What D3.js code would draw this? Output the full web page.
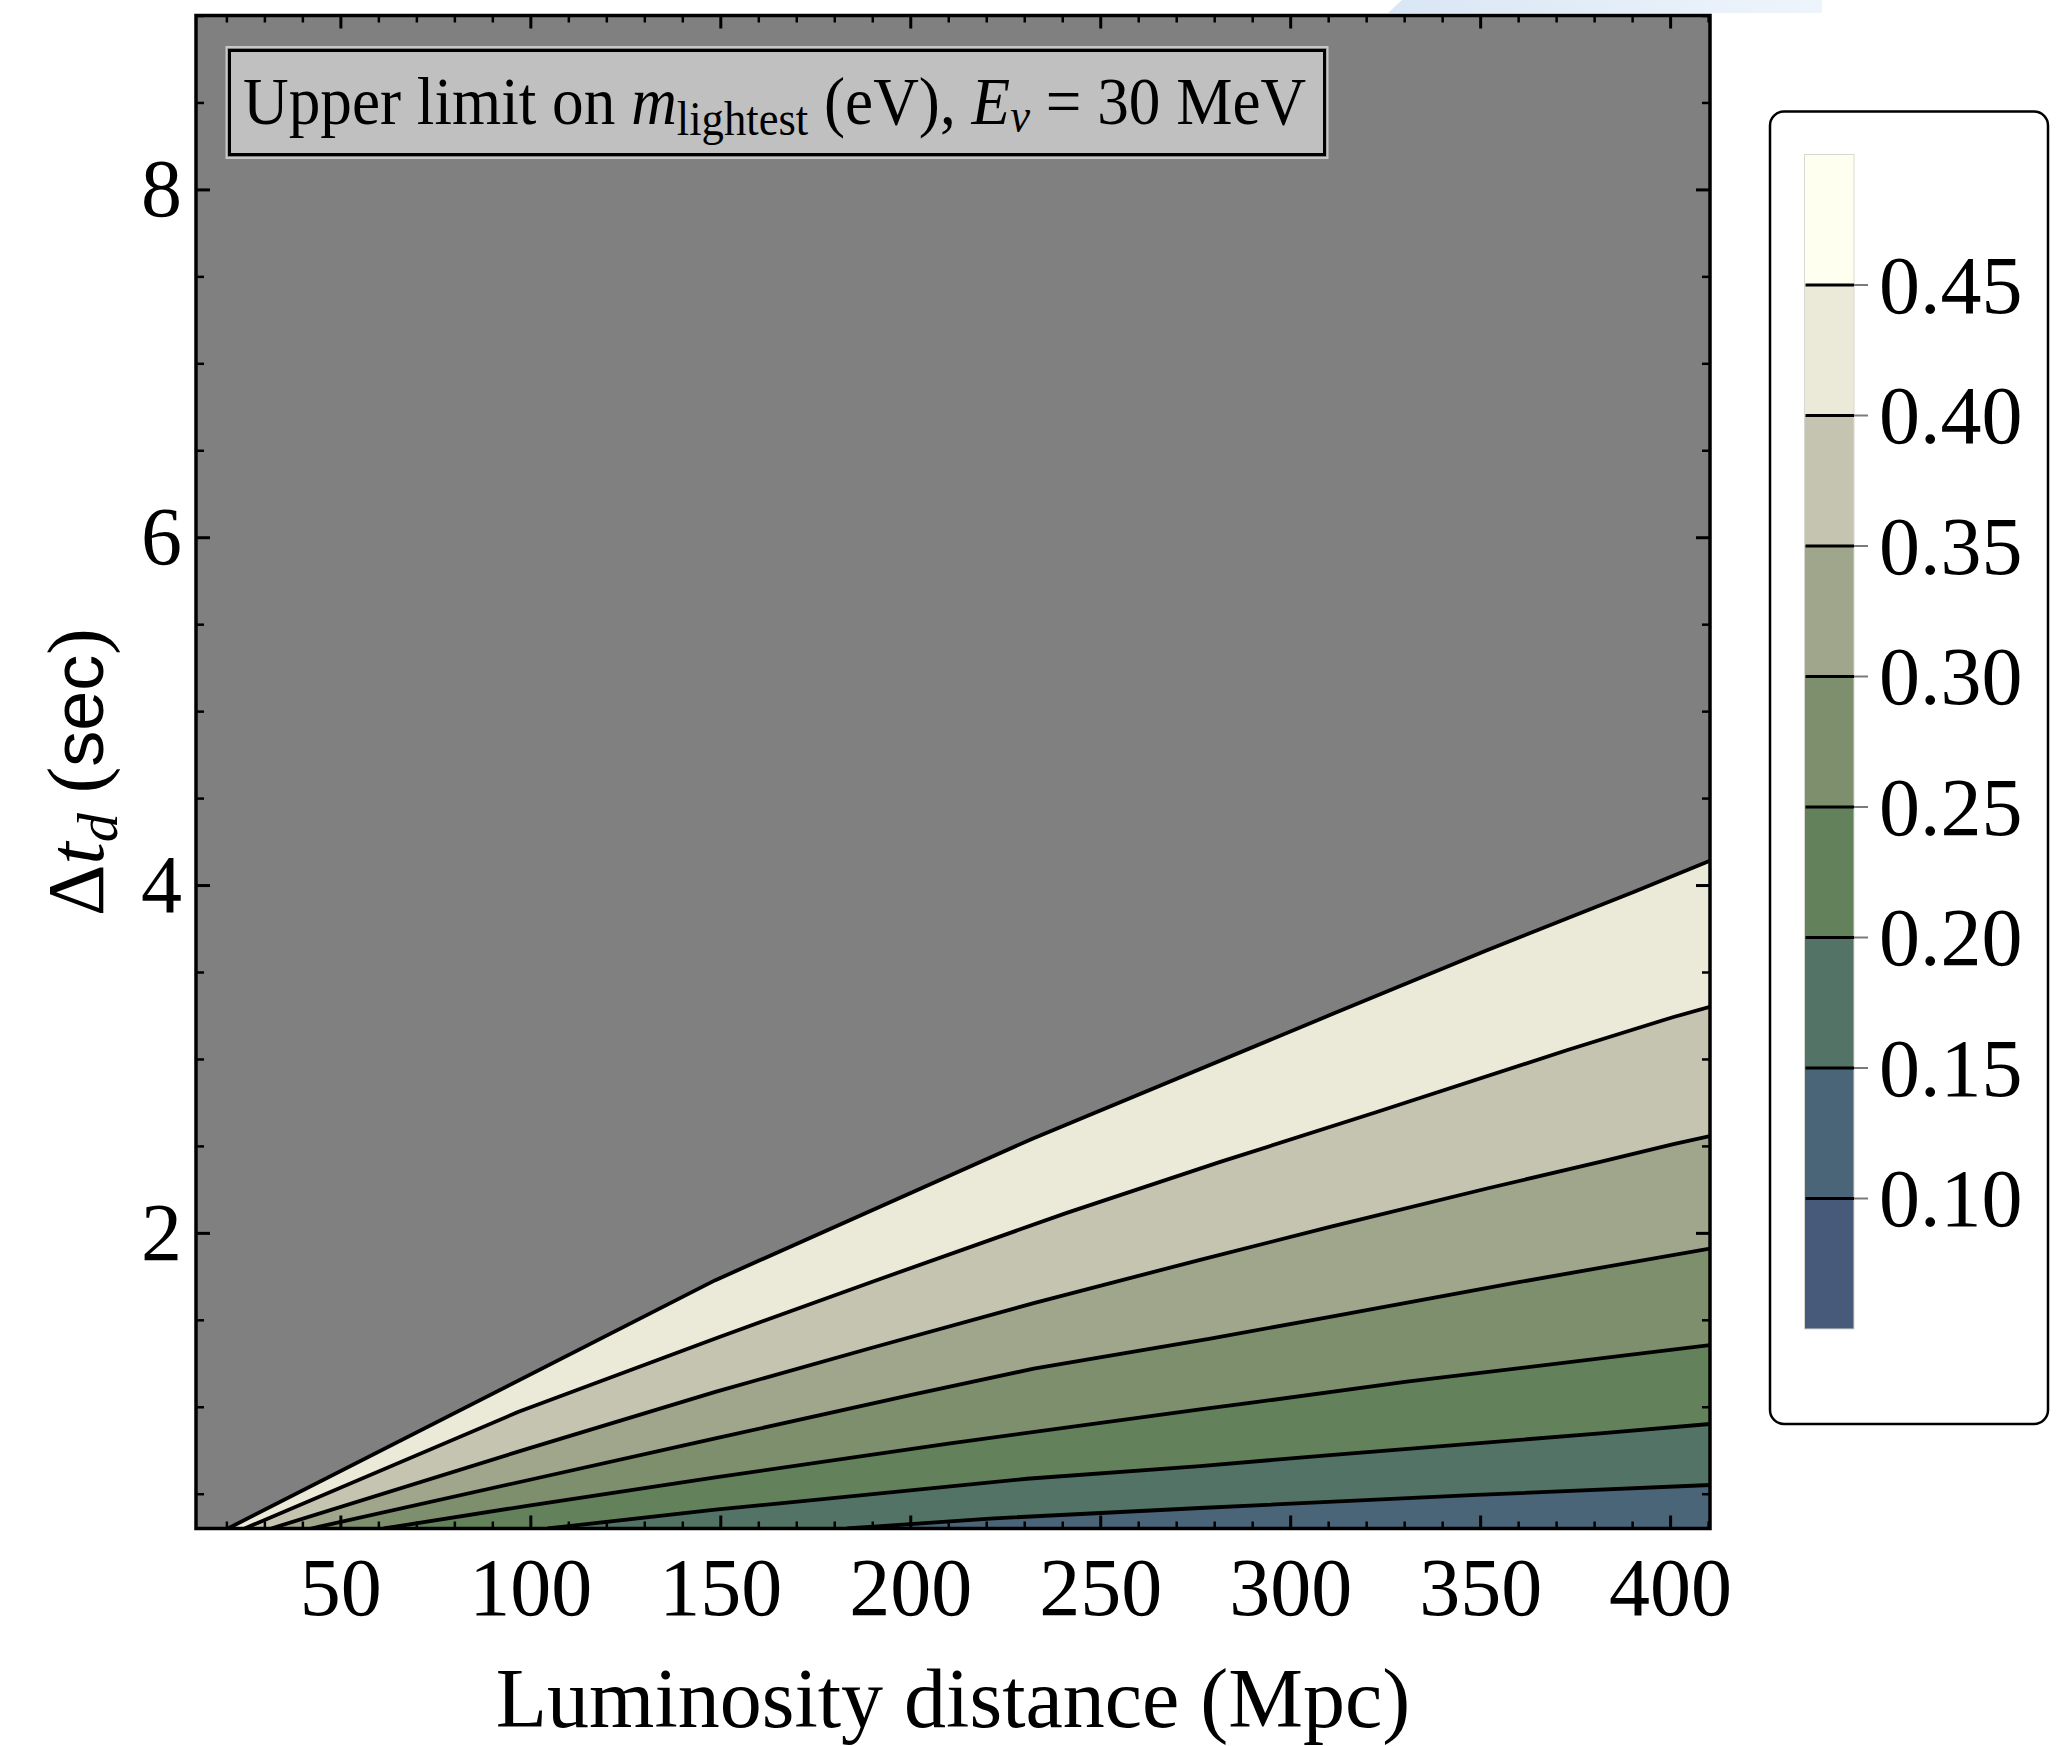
<!DOCTYPE html>
<html>
<head>
<meta charset="utf-8">
<script src="https://cdn.jsdelivr.net/npm/d3@7"></script>
<style>
  html, body { margin: 0; padding: 0; background: #fff; }
  svg { display: block; }
  text { font-family: "Liberation Serif", "Times New Roman", serif; fill: #000; }
</style>
</head>
<body>
<svg id="chart" width="2070" height="1746"></svg>
<script>
// contour levels of m_lightest (eV), top line first
const levels = [0.45, 0.40, 0.35, 0.30, 0.25, 0.20, 0.15]

// contour lines: [luminosity distance (Mpc), delta t_d (sec)]
const line045 = [[20.4, 0.3], [148.7, 1.728], [232, 2.54], [311.4, 3.261], [351.8, 3.625], [390.4, 3.960], [410.5, 4.14]]
const line040 = [[24.8, 0.3], [96.9, 0.971], [148.7, 1.393], [190.4, 1.722], [241.2, 2.115], [281.6, 2.408], [322.8, 2.695], [372.8, 3.050], [400.9, 3.241], [410.5, 3.30]]
const line035 = [[31.8, 0.3], [99.6, 0.761], [148.7, 1.086], [190.4, 1.342], [232.5, 1.596], [276.3, 1.845], [310.5, 2.034], [351.8, 2.255], [381.6, 2.408], [400.9, 2.51], [410.5, 2.556]]
const line030 = [[42.3, 0.3], [99.6, 0.579], [148.7, 0.818], [200, 1.067], [232.5, 1.219], [279, 1.392], [310.5, 1.517], [360.5, 1.718], [410.5, 1.91]]
const line025 = [[61.4, 0.3], [99.6, 0.432], [148.7, 0.594], [210.5, 0.790], [276.3, 0.985], [290.4, 1.025], [330.7, 1.144], [410.5, 1.355]]
const line020 = [[104.5, 0.3], [148.7, 0.408], [171, 0.456], [230.7, 0.586], [276.3, 0.659], [310.5, 0.722], [381.6, 0.847], [410.5, 0.901]]
const line015 = [[183.3, 0.3], [221, 0.357], [276.3, 0.418], [349.1, 0.493], [410.5, 0.55]]
const contourLines = [line045, line040, line035, line030, line025, line020, line015]

const xTicks = [50, 100, 150, 200, 250, 300, 350, 400]
const yTicks = [2, 4, 6, 8]
const barTicks = [0.10, 0.15, 0.20, 0.25, 0.30, 0.35, 0.40, 0.45]
const barEdges = [0.05, 0.10, 0.15, 0.20, 0.25, 0.30, 0.35, 0.40, 0.45, 0.50]

// band colours, low to high (between consecutive barEdges)
const bandColor = d3.scaleThreshold()
  .domain(barTicks)
  .range(['#475a7a', '#4a6478', '#527365', '#63815a', '#7e8f6d', '#a0a68b', '#c5c4b0', '#ebe9d8', '#fffff0'])

const svg = d3.select('#chart')
const x = d3.scaleLinear().domain([12, 410.5]).range([196, 1710])
const y = d3.scaleLinear().domain([0.3, 9]).range([1528.5, 15.5])
const cb = d3.scaleLinear().domain([0.05, 0.5]).range([1329, 154.5])

// faint blue strip at the very top of the screenshot
const grad = svg.append('defs').append('linearGradient').attr('id', 'strip')
grad.append('stop').attr('offset', '0%').attr('stop-color', '#d9e6f4')
grad.append('stop').attr('offset', '100%').attr('stop-color', '#eef4fb')
svg.append('polygon').attr('points', '1402,0 1822,0 1822,13 1388,13').attr('fill', 'url(#strip)')

svg.append('clipPath').attr('id', 'plotclip').append('rect')
  .attr('x', x(12)).attr('y', y(9)).attr('width', x(410.5) - x(12)).attr('height', y(0.3) - y(9))

// plot background: region above the top contour
svg.append('rect')
  .attr('x', x(12)).attr('y', y(9)).attr('width', x(410.5) - x(12)).attr('height', y(0.3) - y(9))
  .attr('fill', '#808080')

const line = d3.line().x(d => x(d[0])).y(d => y(d[1]))
const plot = svg.append('g').attr('clip-path', 'url(#plotclip)')

// filled bands: everything below each contour, drawn from the top level down
contourLines.forEach((pts, i) => {
  plot.append('path')
    .attr('d', line(pts) + `L${x(410.5) + 4},${y(0.3) + 4}L${x(pts[0][0])},${y(0.3) + 4}Z`)
    .attr('fill', bandColor(levels[i] - 0.025))
})
contourLines.forEach(pts => {
  plot.append('path')
    .attr('d', line(pts))
    .attr('fill', 'none')
    .attr('stroke', '#000')
    .attr('stroke-width', 3.8)
    .attr('stroke-linejoin', 'round')
})

// axes
const xMinor = d3.range(20, 411, 10).filter(v => v % 50 !== 0)
const yMinor = d3.range(0.5, 9.01, 0.5).filter(v => v % 2 !== 0)

function styleAxis(g, w) {
  g.select('.domain').remove()
  g.selectAll('.tick line').attr('stroke', '#000').attr('stroke-width', w)
  g.selectAll('.tick text').attr('font-family', '"Liberation Serif", serif').attr('font-size', 82).attr('fill', '#000')
}

svg.append('g').attr('transform', `translate(0,${y(0.3)})`)
  .call(d3.axisBottom(x).tickValues(xTicks).tickFormat(d3.format('d')).tickSize(-13).tickPadding(28))
  .call(g => styleAxis(g, 3))
svg.append('g').attr('transform', `translate(0,${y(0.3)})`)
  .call(d3.axisBottom(x).tickValues(xMinor).tickFormat('').tickSize(-7))
  .call(g => styleAxis(g, 2.5))
svg.append('g').attr('transform', `translate(0,${y(9)})`)
  .call(d3.axisTop(x).tickValues(xTicks).tickFormat('').tickSize(-13))
  .call(g => styleAxis(g, 3))
svg.append('g').attr('transform', `translate(0,${y(9)})`)
  .call(d3.axisTop(x).tickValues(xMinor).tickFormat('').tickSize(-7))
  .call(g => styleAxis(g, 2.5))

svg.append('g').attr('transform', `translate(${x(12)},0)`)
  .call(d3.axisLeft(y).tickValues(yTicks).tickFormat(d3.format('d')).tickSize(-14).tickPadding(14))
  .call(g => styleAxis(g, 3))
svg.append('g').attr('transform', `translate(${x(12)},0)`)
  .call(d3.axisLeft(y).tickValues(yMinor).tickFormat('').tickSize(-8))
  .call(g => styleAxis(g, 2.5))
svg.append('g').attr('transform', `translate(${x(410.5)},0)`)
  .call(d3.axisRight(y).tickValues(yTicks).tickFormat('').tickSize(-14))
  .call(g => styleAxis(g, 3))
svg.append('g').attr('transform', `translate(${x(410.5)},0)`)
  .call(d3.axisRight(y).tickValues(yMinor).tickFormat('').tickSize(-8))
  .call(g => styleAxis(g, 2.5))

// frame
svg.append('rect')
  .attr('x', x(12)).attr('y', y(9)).attr('width', x(410.5) - x(12)).attr('height', y(0.3) - y(9))
  .attr('fill', 'none').attr('stroke', '#000').attr('stroke-width', 3.5)

// axis labels
svg.append('text')
  .attr('x', (x(12) + x(410.5)) / 2).attr('y', 1727)
  .attr('text-anchor', 'middle').attr('font-size', 84)
  .text('Luminosity distance (Mpc)')

const ylab = svg.append('text')
  .attr('transform', `translate(103,${(y(0.3) + y(9)) / 2}) rotate(-90)`)
  .attr('text-anchor', 'middle').attr('font-size', 80)
ylab.append('tspan').text('Δ')
ylab.append('tspan').attr('font-style', 'italic').text('t')
ylab.append('tspan').attr('font-style', 'italic').attr('font-size', 58).attr('dy', 14).text('d')
ylab.append('tspan').attr('dy', -14).text(' (')
ylab.append('tspan').attr('font-family', '"Liberation Sans", Arial, sans-serif').attr('font-size', 72).text('sec')
ylab.append('tspan').text(')')

// annotation box
svg.append('rect').attr('x', 226.5).attr('y', 47).attr('width', 1101).attr('height', 111)
  .attr('fill', 'none').attr('stroke', '#c8c8c8').attr('stroke-width', 2)
svg.append('rect').attr('x', 229.5).attr('y', 50.5).attr('width', 1095).attr('height', 104)
  .attr('fill', '#c0c0c0').attr('stroke', '#000').attr('stroke-width', 3)

const note = svg.append('text')
  .attr('transform', 'translate(243,124) scale(0.93,1)')
  .attr('font-size', 68)
note.append('tspan').text('Upper limit on ')
note.append('tspan').attr('font-style', 'italic').text('m')
note.append('tspan').attr('font-size', 48).attr('dy', 11).text('lightest')
note.append('tspan').attr('dy', -11).text(' (eV), ')
note.append('tspan').attr('font-style', 'italic').text('E')
note.append('tspan').attr('font-style', 'italic').attr('font-size', 48).attr('dy', 8).text('ν')
note.append('tspan').attr('dy', -8).text(' = 30 MeV')

// colour bar legend
svg.append('rect').attr('x', 1770).attr('y', 111.5).attr('width', 278).attr('height', 1312.5)
  .attr('rx', 14).attr('fill', '#fff').attr('stroke', '#000').attr('stroke-width', 2.5)

const barX = 1804.5, barW = 49.5
svg.append('g').selectAll('rect')
  .data(d3.pairs(barEdges))
  .join('rect')
  .attr('x', barX).attr('width', barW)
  .attr('y', d => cb(d[1])).attr('height', d => cb(d[0]) - cb(d[1]))
  .attr('fill', d => bandColor((d[0] + d[1]) / 2))
svg.append('rect').attr('x', barX).attr('y', cb(0.5)).attr('width', barW).attr('height', cb(0.05) - cb(0.5))
  .attr('fill', 'none').attr('stroke', '#d8d8d0').attr('stroke-width', 1)

const cbt = svg.append('g').selectAll('g').data(barTicks).join('g')
  .attr('transform', d => `translate(0,${cb(d)})`)
cbt.append('line').attr('x1', barX + 1).attr('x2', barX + barW).attr('stroke', '#000').attr('stroke-width', 3)
cbt.append('line').attr('x1', barX + barW).attr('x2', barX + barW + 14).attr('stroke', '#7a7a7a').attr('stroke-width', 2)
cbt.append('text')
  .attr('x', 1879).attr('dy', '0.34em').attr('font-size', 82)
  .text(d => d3.format('.2f')(d))
</script>
</body>
</html>
